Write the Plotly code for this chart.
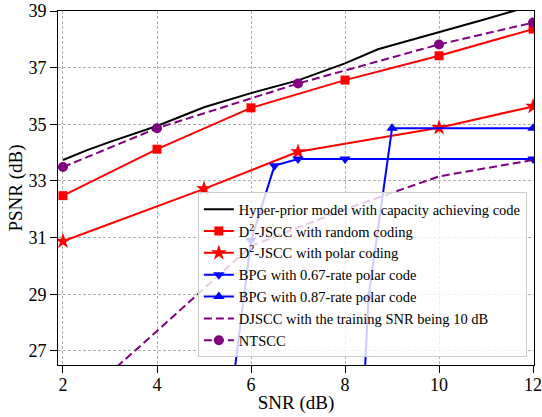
import plotly.graph_objects as go

# ---- data ----
snr_hyper = [2, 2.5, 3, 4, 5, 6, 7, 8, 8.7, 10, 11, 12]
psnr_hyper = [33.74, 34.08, 34.38, 34.94, 35.6, 36.1, 36.55, 37.15, 37.65, 38.24, 38.72, 39.2]

snr_rand = [2, 4, 6, 8, 10, 12]
psnr_rand = [32.48, 34.12, 35.58, 36.56, 37.42, 38.36]

snr_polar = [2, 5, 7, 10, 12]
psnr_polar = [30.87, 32.72, 34.03, 34.88, 35.63]

snr_bpg067 = [5.5, 6, 6.5, 7, 8, 12]
psnr_bpg067 = [24.3, 30.9, 33.54, 33.77, 33.77, 33.77]

snr_bpg087 = [8, 8.5, 9, 12]
psnr_bpg087 = [12.0, 28.9, 34.86, 34.86]

snr_djscc = [2, 4, 6, 8, 10, 12]
psnr_djscc = [24.74, 27.7, 30.7, 32.0, 33.16, 33.74]

snr_ntscc = [2, 4, 7, 10, 12]
psnr_ntscc = [33.49, 34.86, 36.44, 37.82, 38.59]

x_ticks = [2, 4, 6, 8, 10, 12]
y_ticks = [27, 29, 31, 33, 35, 37, 39]

FONT = "Liberation Serif, Times New Roman, serif"

fig = go.Figure()
fig.add_trace(go.Scatter(x=snr_hyper, y=psnr_hyper, mode="lines",
                         name="Hyper-prior model with capacity achieving code",
                         line=dict(color="black", width=2)))
fig.add_trace(go.Scatter(x=snr_rand, y=psnr_rand, mode="lines+markers",
                         name="D<sup>2</sup>-JSCC with random coding",
                         line=dict(color="#ff0000", width=2),
                         marker=dict(symbol="square", size=9, color="#ff0000")))
fig.add_trace(go.Scatter(x=snr_polar, y=psnr_polar, mode="lines+markers",
                         name="D<sup>2</sup>-JSCC with polar coding",
                         line=dict(color="#ff0000", width=2),
                         marker=dict(symbol="star", size=12, color="#ff0000")))
fig.add_trace(go.Scatter(x=snr_bpg067, y=psnr_bpg067, mode="lines+markers",
                         name="BPG with 0.67-rate polar code",
                         line=dict(color="#0000ff", width=2),
                         marker=dict(symbol="triangle-down", size=10, color="#0000ff")))
fig.add_trace(go.Scatter(x=snr_bpg087, y=psnr_bpg087, mode="lines+markers",
                         name="BPG with 0.87-rate polar code",
                         line=dict(color="#0000ff", width=2),
                         marker=dict(symbol="triangle-up", size=10, color="#0000ff")))
fig.add_trace(go.Scatter(x=snr_djscc, y=psnr_djscc, mode="lines",
                         name="DJSCC with the training SNR being 10 dB",
                         line=dict(color="#800080", width=2, dash="8px,4px")))
fig.add_trace(go.Scatter(x=snr_ntscc, y=psnr_ntscc, mode="lines+markers",
                         name="NTSCC",
                         line=dict(color="#800080", width=2, dash="8px,4px"),
                         marker=dict(symbol="circle", size=10, color="#800080")))

axis_common = dict(
    showline=True, linecolor="black", linewidth=1, mirror=True,
    ticks="outside", ticklen=7, tickwidth=1, tickcolor="black",
    showgrid=True, gridcolor="#b0b0b0", gridwidth=0.8, griddash="3px,2px",
    zeroline=False, automargin=False, ticklabeloverflow="allow",
    tickfont=dict(family=FONT, size=18, color="black"),
)

fig.update_xaxes(range=[1.894, 12.02], tickvals=x_ticks, ticklabelstandoff=-4,
                 title=dict(text="SNR (dB)", font=dict(family=FONT, size=19, color="black"), standoff=2),
                 **axis_common)
fig.update_yaxes(range=[26.5, 39], tickvals=y_ticks,
                 title=dict(text="PSNR (dB)", font=dict(family=FONT, size=19, color="black"), standoff=0),
                 **axis_common)

fig.update_layout(
    width=542, height=417,
    margin=dict(l=58, r=8, t=11, b=52, autoexpand=False),
    paper_bgcolor="white", plot_bgcolor="white",
    font=dict(family=FONT, color="black"),
    showlegend=True,
    legend=dict(x=0.985, y=0.022, xanchor="right", yanchor="bottom",
                bgcolor="rgba(255,255,255,0.8)", bordercolor="#cccccc", borderwidth=1,
                font=dict(family=FONT, size=14.5, color="black"),
                itemwidth=30, tracegroupgap=0),
)

fig.write_html("out.html", config={"displayModeBar": False},
               post_script="document.body.style.margin='0';document.body.style.overflow='hidden';")
